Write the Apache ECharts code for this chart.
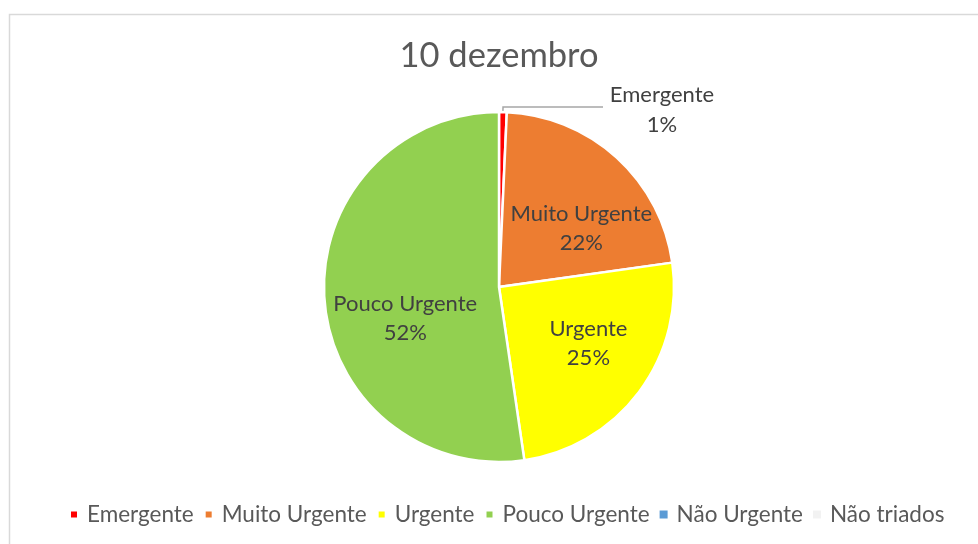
<!DOCTYPE html>
<html>
<head>
<meta charset="utf-8">
<script src="https://cdn.jsdelivr.net/npm/echarts@6/dist/echarts.min.js"></script>
<style>
html,body{margin:0;padding:0;background:#fff;}
#chart{width:978px;height:544px;}
</style>
</head>
<body>
<div id="chart"></div>
<script>
const titleText = '10 dezembro';
const categories = ['Emergente', 'Muito Urgente', 'Urgente', 'Pouco Urgente', 'Não Urgente', 'Não triados'];
const values = [2, 62, 70, 147, 0, 0];
const colors = ['#FF0000', '#ED7D31', '#FFFF00', '#92D050', '#5B9BD5', '#F2F2F2'];

const FONT = 'Lato';
// label nudges (styling, Excel best-fit placement)
const labelNudge = { 'Emergente': [0, 3], 'Muito Urgente': [13, 18], 'Urgente': [7, -5], 'Pouco Urgente': [9, 24] };

const chart = echarts.init(document.getElementById('chart'));

const shapeData = categories.map((name, i) => ({
  name: name, value: values[i],
  itemStyle: { color: colors[i], borderWidth: values[i] === 0 ? 0 : 2.5 }
}));

const labelData = categories.map((name, i) => {
  const item = { name: name, value: values[i], itemStyle: { color: 'rgba(0,0,0,0)' } };
  if (values[i] === 0) {
    item.label = { show: false };
    item.labelLine = { show: false };
  } else if (i === 0) {
    item.label = {
      position: 'outside',
      offset: labelNudge[name],
      formatter: p => '{o|' + p.name + '}\n{o|' + Math.round(p.percent) + '%}',
      rich: { o: { width: 108, align: 'center', fontFamily: FONT, fontSize: 22, color: '#404040', lineHeight: 30 } }
    };
    item.labelLine = { show: true, length: 5, length2: 100, lineStyle: { color: '#A6A6A6', width: 1.5 } };
  } else {
    item.label = { offset: labelNudge[name] };
  }
  return item;
});

chart.setOption({
  backgroundColor: '#fff',
  graphic: [{
    type: 'rect', left: 7, top: 12, silent: true,
    shape: { width: 990, height: 560 },
    style: { fill: 'none', stroke: '#D9D9D9', lineWidth: 1.5 }
  }],
  title: {
    text: titleText, left: 494, top: 33, textAlign: 'center',
    textStyle: { fontFamily: FONT, fontSize: 34.5, fontWeight: 'normal', color: '#595959' }
  },
  legend: {
    bottom: 13, left: 64,
    icon: 'rect', itemWidth: 8, itemHeight: 8, itemGap: 10,
    textStyle: { fontFamily: FONT, fontSize: 22.5, color: '#595959', padding: [0, 0, 0, 4] },
    data: categories
  },
  series: [{
    type: 'pie',
    center: [499, 287],
    radius: [0, 175],
    startAngle: 90,
    clockwise: true,
    silent: true,
    itemStyle: { borderColor: '#fff' },
    label: { show: false },
    labelLine: { show: false },
    emphasis: { disabled: true },
    data: shapeData
  }, {
    type: 'pie',
    center: [499, 287],
    radius: [25, 175],
    startAngle: 90,
    clockwise: true,
    silent: true,
    avoidLabelOverlap: false,
    itemStyle: { borderWidth: 0 },
    label: {
      show: true, position: 'inside',
      fontFamily: FONT, fontSize: 22, color: '#404040', lineHeight: 29,
      formatter: p => p.name + '\n' + Math.round(p.percent) + '%'
    },
    emphasis: { disabled: true },
    data: labelData
  }],
  animation: false
});
</script>
</body>
</html>
